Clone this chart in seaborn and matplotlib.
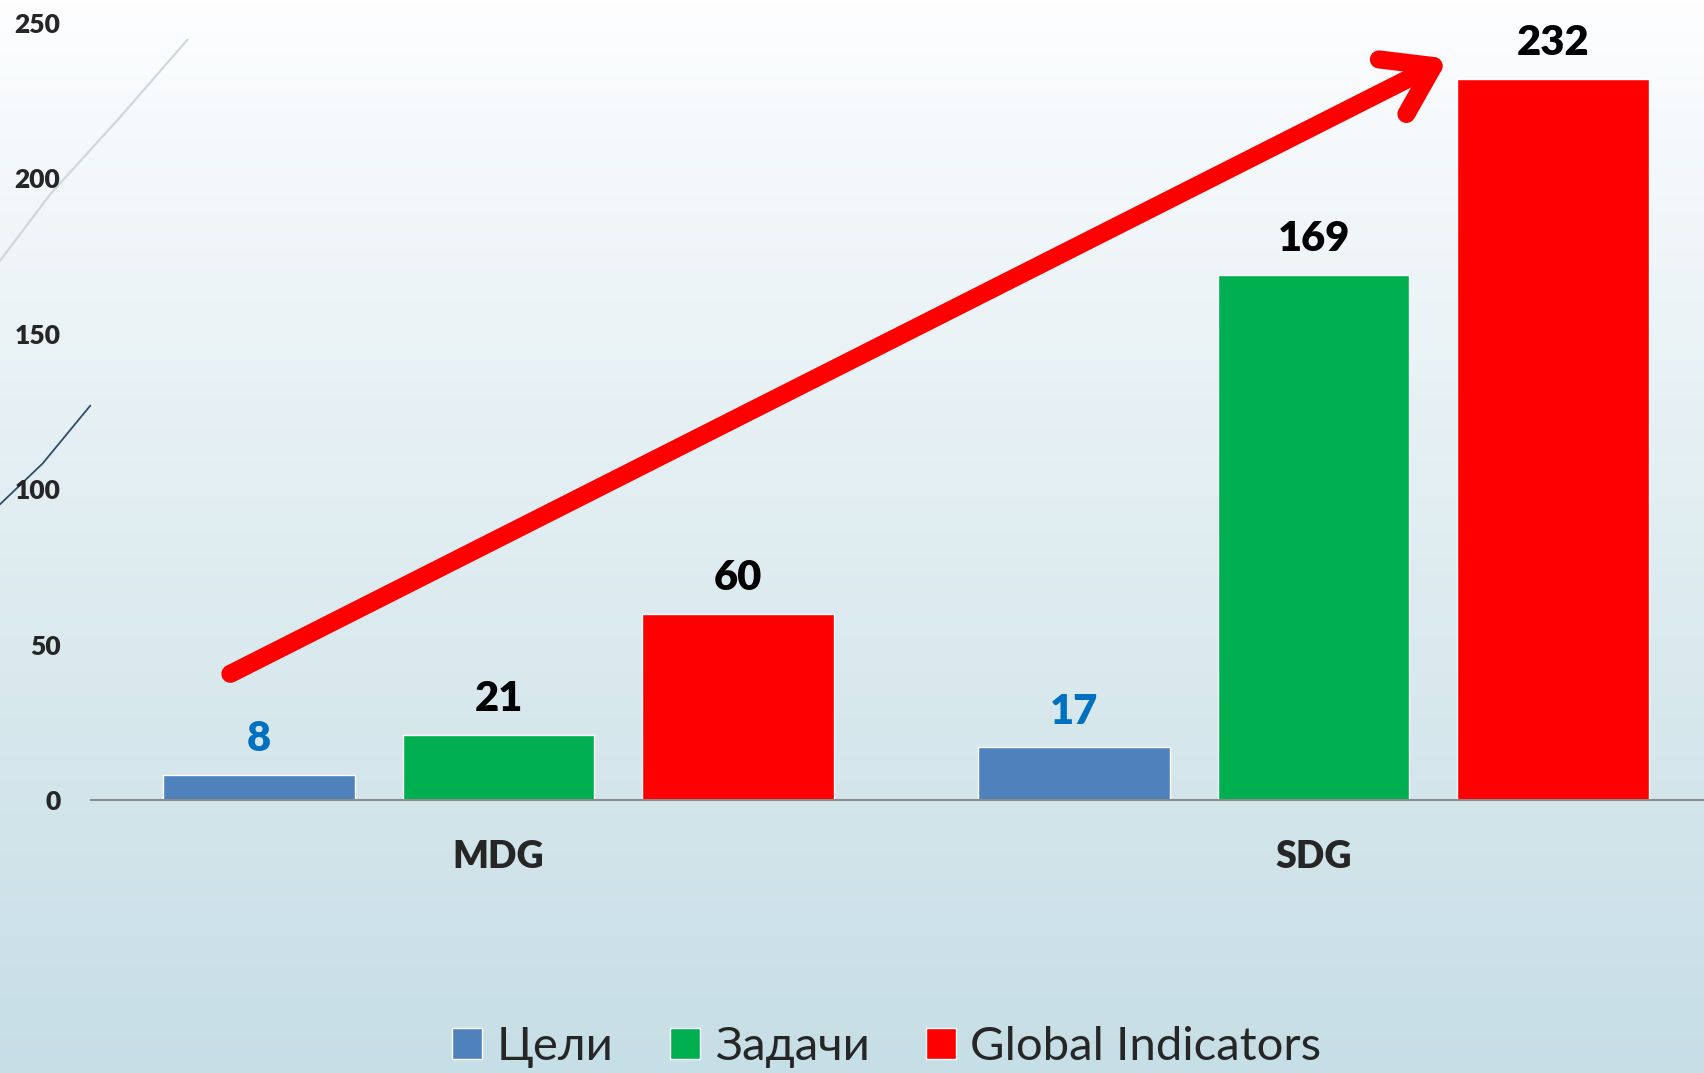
"""MDG vs SDG: goals, targets and global indicators."""

import numpy as np
import pandas as pd
import matplotlib
matplotlib.use("Agg")
import matplotlib.pyplot as plt
import seaborn as sns

groups = ["MDG", "SDG"]
series = ["Цели", "Задачи", "Global Indicators"]
goals = [8, 17]
targets = [21, 169]
indicators = [60, 232]
y_ticks = [0, 50, 100, 150, 200, 250]

colors = ["#4f81bd", "#00b050", "#ff0000"]
label_colors = ["#0070c0", "#000000", "#000000"]

df = pd.DataFrame({
    "group": groups * 3,
    "series": [s for s in series for _ in groups],
    "value": goals + targets + indicators,
})

sns.set_style("white")
plt.rcParams["font.family"] = ["Lato", "Noto Sans", "DejaVu Sans"]

fig = plt.figure(figsize=(17.04, 10.73), dpi=100)

# background gradient + decorative strokes
bg = fig.add_axes([0, 0, 1, 1], zorder=-10)
grad = np.linspace(0, 1, 256).reshape(-1, 1)
top = np.array([254, 254, 255]) / 255
bot = np.array([198, 222, 229]) / 255
img = top + (bot - top) * grad[..., None] ** 0.9
bg.imshow(img.reshape(256, 1, 3), aspect="auto", extent=[0, 1, 0, 1], origin="upper")
bg.plot([0.0, 0.03, 0.07, 0.11], [0.757, 0.82, 0.89, 0.963], color="#cfd8dd", lw=1.6)
bg.plot([0.0, 0.025, 0.053], [0.53, 0.568, 0.622], color="#2d4d6a", lw=1.3)
bg.set_xlim(0, 1)
bg.set_ylim(0, 1)
bg.axis("off")

ax = fig.add_axes([0.0534, 0.2544, 0.9466, 0.7242])
ax.patch.set_alpha(0)
sns.barplot(data=df, x="group", y="value", hue="series", palette=colors,
            width=0.882, gap=0.2, saturation=1, ax=ax, zorder=2)

for cont, c in zip(ax.containers, label_colors):
    ax.bar_label(cont, padding=12, fontsize=30, fontweight="heavy", color=c)

ax.set_xlim(-0.5, 1.479)
ax.set_ylim(0, 250)
ax.set_yticks(y_ticks)
ax.set_xlabel("")
ax.set_ylabel("")
ax.tick_params(axis="y", length=0, pad=22, labelsize=19)
ax.tick_params(axis="x", length=0, pad=29, labelsize=27)
for lab in ax.get_xticklabels() + ax.get_yticklabels():
    lab.set_fontweight("heavy")
for side in ["top", "right", "left"]:
    ax.spines[side].set_visible(False)
ax.spines["bottom"].set_color("#8c8c8c")
ax.spines["bottom"].set_linewidth(1.5)

# growth arrow
ax.annotate("", xy=(1.165, 238.5), xytext=(-0.329, 40.6),
            arrowprops=dict(arrowstyle="->,head_length=0.6,head_width=0.4",
                            lw=13, color="#ff0000", mutation_scale=55,
                            shrinkA=0, shrinkB=0),
            zorder=5)

handles, labels = ax.get_legend_handles_labels()
ax.get_legend().remove()
fig.legend(handles, labels, loc="center", bbox_to_anchor=(0.5205, 0.024), ncol=3,
           frameon=False, fontsize=34, handlelength=0.64, handleheight=0.64,
           handletextpad=0.3, columnspacing=1.2)

fig.savefig("out.png", dpi=100)
